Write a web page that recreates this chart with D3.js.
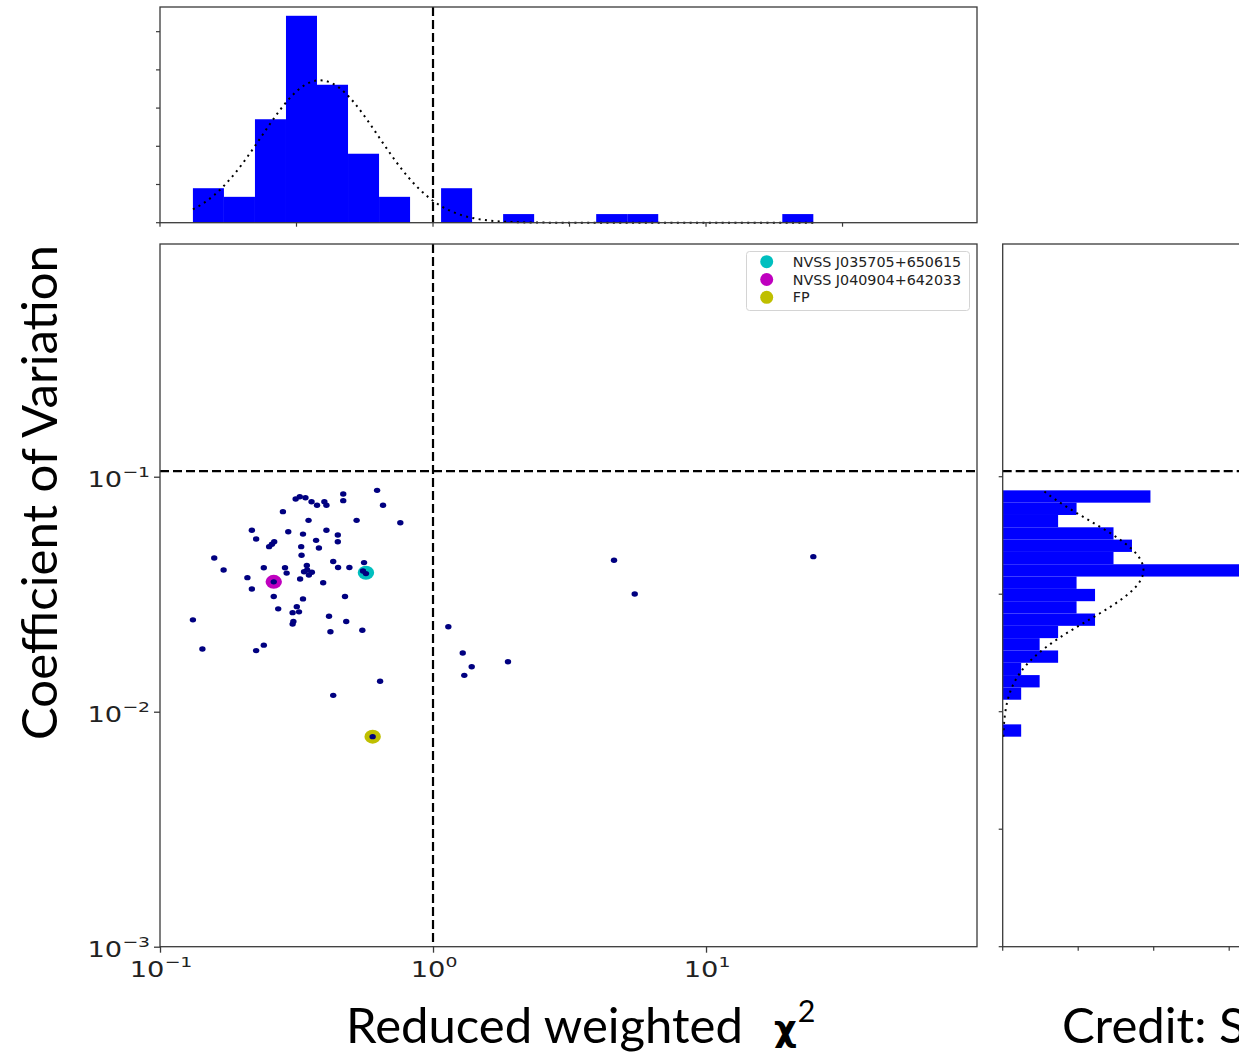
<!DOCTYPE html>
<html><head><meta charset="utf-8">
<script src="https://cdn.jsdelivr.net/npm/d3@7"></script>
<style>
html,body{margin:0;padding:0;background:#fff;overflow:hidden}
svg{display:block}
</style></head><body>
<svg id="fig" width="1239" height="1055"></svg>
<script>
// Reduced weighted chi-square and coefficient of variation for each source
const chi2 = [
  0.132, 0.143, 0.158, 0.171, 0.209, 0.217, 0.217, 0.225, 0.225, 0.240,
  0.240, 0.251, 0.257, 0.262, 0.261, 0.261, 0.271, 0.282, 0.287, 0.291,
  0.295, 0.306, 0.308, 0.306, 0.317, 0.323, 0.326, 0.314, 0.325, 0.341,
  0.359, 0.376, 0.400, 0.407, 0.350, 0.334, 0.329, 0.330, 0.334, 0.345,
  0.337, 0.351, 0.360, 0.346, 0.373, 0.382, 0.396, 0.407, 0.416, 0.421,
  0.431, 0.448, 0.448, 0.449, 0.469, 0.469, 0.476, 0.481, 0.494, 0.525,
  0.551, 0.559, 0.568, 0.554, 0.624, 0.656, 0.759, 0.640, 0.431, 0.601,
  1.138, 1.285, 1.386, 1.302, 1.882, 4.603, 5.481, 24.72
];
const cv = [
  0.0246, 0.0185, 0.0451, 0.0401, 0.0372, 0.0592, 0.0333, 0.0543, 0.0182, 0.0192,
  0.0410, 0.0504, 0.0516, 0.0529, 0.0357, 0.0309, 0.0274, 0.0710, 0.0410, 0.0389,
  0.0583, 0.0236, 0.0242, 0.0264, 0.0280, 0.0266, 0.0367, 0.0804, 0.0822, 0.0814,
  0.0783, 0.0756, 0.0783, 0.0756, 0.0652, 0.0570, 0.0504, 0.0463, 0.0302, 0.0419,
  0.0394, 0.0382, 0.0392, 0.0401, 0.0536, 0.0497, 0.0354, 0.0592, 0.0255, 0.0219,
  0.0436, 0.0565, 0.0529, 0.0411, 0.0844, 0.0791, 0.0309, 0.0242, 0.0411, 0.0652,
  0.0222, 0.0431, 0.0387, 0.0397, 0.0875, 0.0756, 0.0637, 0.01347, 0.01174, 0.00783,
  0.0230, 0.01777, 0.01554, 0.01428, 0.01632, 0.0441, 0.0317, 0.0457
];

// 20 log-spaced bins spanning the data range, lowest bin first
const chi2Counts = [4, 3, 12, 24, 16, 8, 3, 0, 4, 0, 1, 0, 0, 1, 1, 0, 0, 0, 0, 1];
const cvCounts   = [1, 0, 0, 1, 2, 1, 3, 2, 3, 5, 4, 5, 4, 13, 6, 7, 6, 3, 4, 8];

// Gaussian fits to log10 of each quantity
const chi2Fit = { mu: -0.414, sigma: 0.214 };
const cvFit   = { mu: -1.397, sigma: 0.214 };

// Variability thresholds
const chi2Threshold = 1.0;
const cvThreshold = 0.1057;

const highlights = [
  { name: "NVSS J035705+650615", chi2: 0.568, cv: 0.0390, color: "#00bfbf" },
  { name: "NVSS J040904+642033", chi2: 0.261, cv: 0.0357, color: "#bf00bf" },
  { name: "FP",                  chi2: 0.601, cv: 0.00783, color: "#bfbf00" }
];

const xTickExps = [-1, 0, 1];
const yTickExps = [-1, -2, -3];
const topDensityTicks = [0, 0.5, 1, 1.5, 2, 2.5];
const logChi2Ticks = [-1, -0.5, 0, 0.5, 1, 1.5];
const logCvTicks = [-3, -2.5, -2, -1.5, -1];
const sideDensityTicks = [0, 1, 2, 3];

// ---- layout ----
const main = { left: 160, right: 977, top: 244, bottom: 946.7 };
const topP = { left: 160, right: 977, top: 7, bottom: 222.7 };
const side = { left: 1002.7, right: 1265, top: 244, bottom: 946.7 };
const axisColor = "#3a3a3a";

const svg = d3.select("#fig");

const xMax = 98.3, yMax = 0.978;
const x = d3.scaleLog().domain([0.1, xMax]).range([main.left, main.right]);
const y = d3.scaleLog().domain([0.001, yMax]).range([main.bottom, main.top]);
const xLog = d3.scaleLinear().domain([-1, Math.log10(xMax)]).range([topP.left, topP.right]);
const yTop = d3.scaleLinear().domain([0, 2.823]).range([topP.bottom, topP.top]);
const yLog = d3.scaleLinear().domain([-3, Math.log10(yMax)]).range([side.bottom, side.top]);
const xSide = d3.scaleLinear().domain([0, 3]).range([side.left, 1229.2]);

const N = chi2.length;
const gauss = (v, f) => Math.exp(-0.5 * ((v - f.mu) / f.sigma) ** 2) / (f.sigma * Math.sqrt(2 * Math.PI));

// ---- top histogram: log10(chi2) ----
const lc = d3.extent(chi2, d => Math.log10(d));
const wc = (lc[1] - lc[0]) / chi2Counts.length;
const topBins = chi2Counts.map((c, i) => ({ x0: lc[0] + i * wc, x1: lc[0] + (i + 1) * wc, d: c / (N * wc) }));

const gTop = svg.append("g");
gTop.selectAll("rect").data(topBins.filter(b => b.d > 0)).join("rect")
  .attr("x", b => xLog(b.x0)).attr("width", b => xLog(b.x1) - xLog(b.x0))
  .attr("y", b => yTop(b.d)).attr("height", b => yTop(0) - yTop(b.d))
  .attr("fill", "#0000ff");

const topCurve = d3.range(0, 201).map(i => lc[0] + (lc[1] - lc[0]) * i / 200);
gTop.append("path")
  .attr("d", d3.line().x(v => xLog(v)).y(v => yTop(gauss(v, chi2Fit)))(topCurve))
  .attr("fill", "none").attr("stroke", "#000").attr("stroke-width", 2)
  .attr("stroke-dasharray", "2,4.4");

gTop.append("line")
  .attr("x1", xLog(Math.log10(chi2Threshold))).attr("x2", xLog(Math.log10(chi2Threshold)))
  .attr("y1", topP.top).attr("y2", topP.bottom)
  .attr("stroke", "#000").attr("stroke-width", 2.2).attr("stroke-dasharray", "9,4");

gTop.append("rect").attr("x", topP.left).attr("y", topP.top)
  .attr("width", topP.right - topP.left).attr("height", topP.bottom - topP.top)
  .attr("fill", "none").attr("stroke", axisColor).attr("stroke-width", 1.3);
gTop.selectAll(".ty").data(topDensityTicks).join("line")
  .attr("x1", topP.left - 4).attr("x2", topP.left)
  .attr("y1", d => yTop(d)).attr("y2", d => yTop(d))
  .attr("stroke", axisColor).attr("stroke-width", 1.2);
gTop.selectAll(".tx").data(logChi2Ticks).join("line")
  .attr("x1", d => xLog(d)).attr("x2", d => xLog(d))
  .attr("y1", topP.bottom).attr("y2", topP.bottom + 4)
  .attr("stroke", axisColor).attr("stroke-width", 1.2);

// ---- side histogram: log10(cv) ----
const lv = d3.extent(cv, d => Math.log10(d));
const wv = (lv[1] - lv[0]) / cvCounts.length;
const sideBins = cvCounts.map((c, i) => ({ y0: lv[0] + i * wv, y1: lv[0] + (i + 1) * wv, d: c / (N * wv) }));

const gSide = svg.append("g");
gSide.selectAll("rect").data(sideBins.filter(b => b.d > 0)).join("rect")
  .attr("x", xSide(0)).attr("width", b => xSide(b.d) - xSide(0))
  .attr("y", b => yLog(b.y1)).attr("height", b => yLog(b.y0) - yLog(b.y1))
  .attr("fill", "#0000ff");

const sideCurve = d3.range(0, 201).map(i => lv[0] + (lv[1] - lv[0]) * i / 200);
gSide.append("path")
  .attr("d", d3.line().x(v => xSide(gauss(v, cvFit))).y(v => yLog(v))(sideCurve))
  .attr("fill", "none").attr("stroke", "#000").attr("stroke-width", 2)
  .attr("stroke-dasharray", "2,4.4");

gSide.append("line")
  .attr("x1", side.left).attr("x2", side.right)
  .attr("y1", yLog(Math.log10(cvThreshold))).attr("y2", yLog(Math.log10(cvThreshold)))
  .attr("stroke", "#000").attr("stroke-width", 2.2).attr("stroke-dasharray", "9,4");

gSide.append("rect").attr("x", side.left).attr("y", side.top)
  .attr("width", side.right - side.left).attr("height", side.bottom - side.top)
  .attr("fill", "none").attr("stroke", axisColor).attr("stroke-width", 1.3);
gSide.selectAll(".ty").data(logCvTicks).join("line")
  .attr("x1", side.left - 4).attr("x2", side.left)
  .attr("y1", d => yLog(d)).attr("y2", d => yLog(d))
  .attr("stroke", axisColor).attr("stroke-width", 1.2);
gSide.selectAll(".tx").data(sideDensityTicks).join("line")
  .attr("x1", d => xSide(d)).attr("x2", d => xSide(d))
  .attr("y1", side.bottom).attr("y2", side.bottom + 4)
  .attr("stroke", axisColor).attr("stroke-width", 1.2);

// ---- main scatter ----
const gMain = svg.append("g");
gMain.append("line")
  .attr("x1", x(chi2Threshold)).attr("x2", x(chi2Threshold))
  .attr("y1", main.top).attr("y2", main.bottom)
  .attr("stroke", "#000").attr("stroke-width", 2.2).attr("stroke-dasharray", "9,4");
gMain.append("line")
  .attr("x1", main.left).attr("x2", main.right)
  .attr("y1", y(cvThreshold)).attr("y2", y(cvThreshold))
  .attr("stroke", "#000").attr("stroke-width", 2.2).attr("stroke-dasharray", "9,4");

gMain.selectAll(".hl").data(highlights).join("ellipse")
  .attr("cx", d => x(d.chi2)).attr("cy", d => y(d.cv))
  .attr("rx", 8.2).attr("ry", 7).attr("fill", d => d.color);

const pts = chi2.map((c, i) => ({ c, v: cv[i] }));
gMain.selectAll(".pt").data(pts).join("ellipse")
  .attr("cx", d => x(d.c)).attr("cy", d => y(d.v))
  .attr("rx", 3.2).attr("ry", 2.7).attr("fill", "#000080");

gMain.append("rect").attr("x", main.left).attr("y", main.top)
  .attr("width", main.right - main.left).attr("height", main.bottom - main.top)
  .attr("fill", "none").attr("stroke", axisColor).attr("stroke-width", 1.3);

// axes via d3 tick positions
const xAxis = d3.axisBottom(x).tickValues(xTickExps.map(e => 10 ** e)).tickSize(6).tickFormat("");
const yAxis = d3.axisLeft(y).tickValues(yTickExps.map(e => 10 ** e)).tickSize(6).tickFormat("");
const gx = gMain.append("g").attr("transform", `translate(0,${main.bottom})`).call(xAxis);
const gy = gMain.append("g").attr("transform", `translate(${main.left},0)`).call(yAxis);
[gx, gy].forEach(g => {
  g.select(".domain").remove();
  g.selectAll("line").attr("stroke", axisColor).attr("stroke-width", 1.3);
});

// power-of-ten tick labels
function powLabel(px, py, exp, anchor) {
  const g = gMain.append("g").attr("transform", `translate(${px},${py}) scale(1.3,1)`);
  const t = g.append("text").attr("text-anchor", anchor)
    .attr("font-family", "DejaVu Sans").attr("font-size", 21).attr("fill", "#222");
  t.append("tspan").text("10");
  t.append("tspan").attr("font-size", 14.5).attr("dy", -9.5).text(exp < 0 ? "\u2212" + (-exp) : String(exp));
}
xTickExps.forEach(e => powLabel(x(10 ** e) + 1, main.bottom + 30, e, "middle"));
yTickExps.forEach(e => powLabel(main.left - 10, y(10 ** e) + 10, e, "end"));

// legend
const lg = gMain.append("g");
lg.append("rect").attr("x", 746.5).attr("y", 251.5).attr("width", 223).attr("height", 59)
  .attr("rx", 3).attr("fill", "#fff").attr("fill-opacity", 0.85)
  .attr("stroke", "#d4d4d4").attr("stroke-width", 1);
highlights.forEach((h, i) => {
  const cy = 261.7 + i * 17.8;
  lg.append("circle").attr("cx", 766.7).attr("cy", cy).attr("r", 6.5).attr("fill", h.color);
  lg.append("text").attr("x", 792.7).attr("y", cy + 5)
    .attr("font-family", "DejaVu Sans").attr("font-size", 14.3).attr("fill", "#222")
    .text(h.name);
});

// ---- axis titles ----
const titleFont = "Lato, 'Open Sans', sans-serif";
function fitText(sel, width) {
  const w = sel.node().getComputedTextLength();
  const fs = +sel.attr("font-size") * width / w;
  sel.attr("font-size", fs);
  return fs;
}

const yTitle = svg.append("text")
  .attr("transform", "translate(57,492.5) rotate(-90)")
  .attr("text-anchor", "middle").attr("font-family", titleFont)
  .attr("font-size", 44).attr("fill", "#000").text("Coefficient of Variation");
fitText(yTitle, 495);

const xTitle = svg.append("text")
  .attr("x", 346).attr("y", 1043).attr("font-family", titleFont)
  .attr("font-size", 44).attr("fill", "#000").text("Reduced weighted");
const fs = fitText(xTitle, 397);
const chi = svg.append("text").attr("x", 774).attr("y", 1041)
  .attr("font-family", "'DejaVu Sans', sans-serif").attr("font-weight", "bold")
  .attr("font-size", fs * 0.72).attr("fill", "#000").text("\u03c7");
const chiW = chi.node().getComputedTextLength();
svg.append("text").attr("x", 774 + chiW + 1).attr("y", 1022)
  .attr("font-family", titleFont).attr("font-size", fs * 0.62).attr("fill", "#000").text("2");

svg.append("text").attr("x", 1062).attr("y", 1043).attr("font-family", titleFont)
  .attr("font-size", fs).attr("fill", "#000").text("Credit: S");
</script>
</body></html>
